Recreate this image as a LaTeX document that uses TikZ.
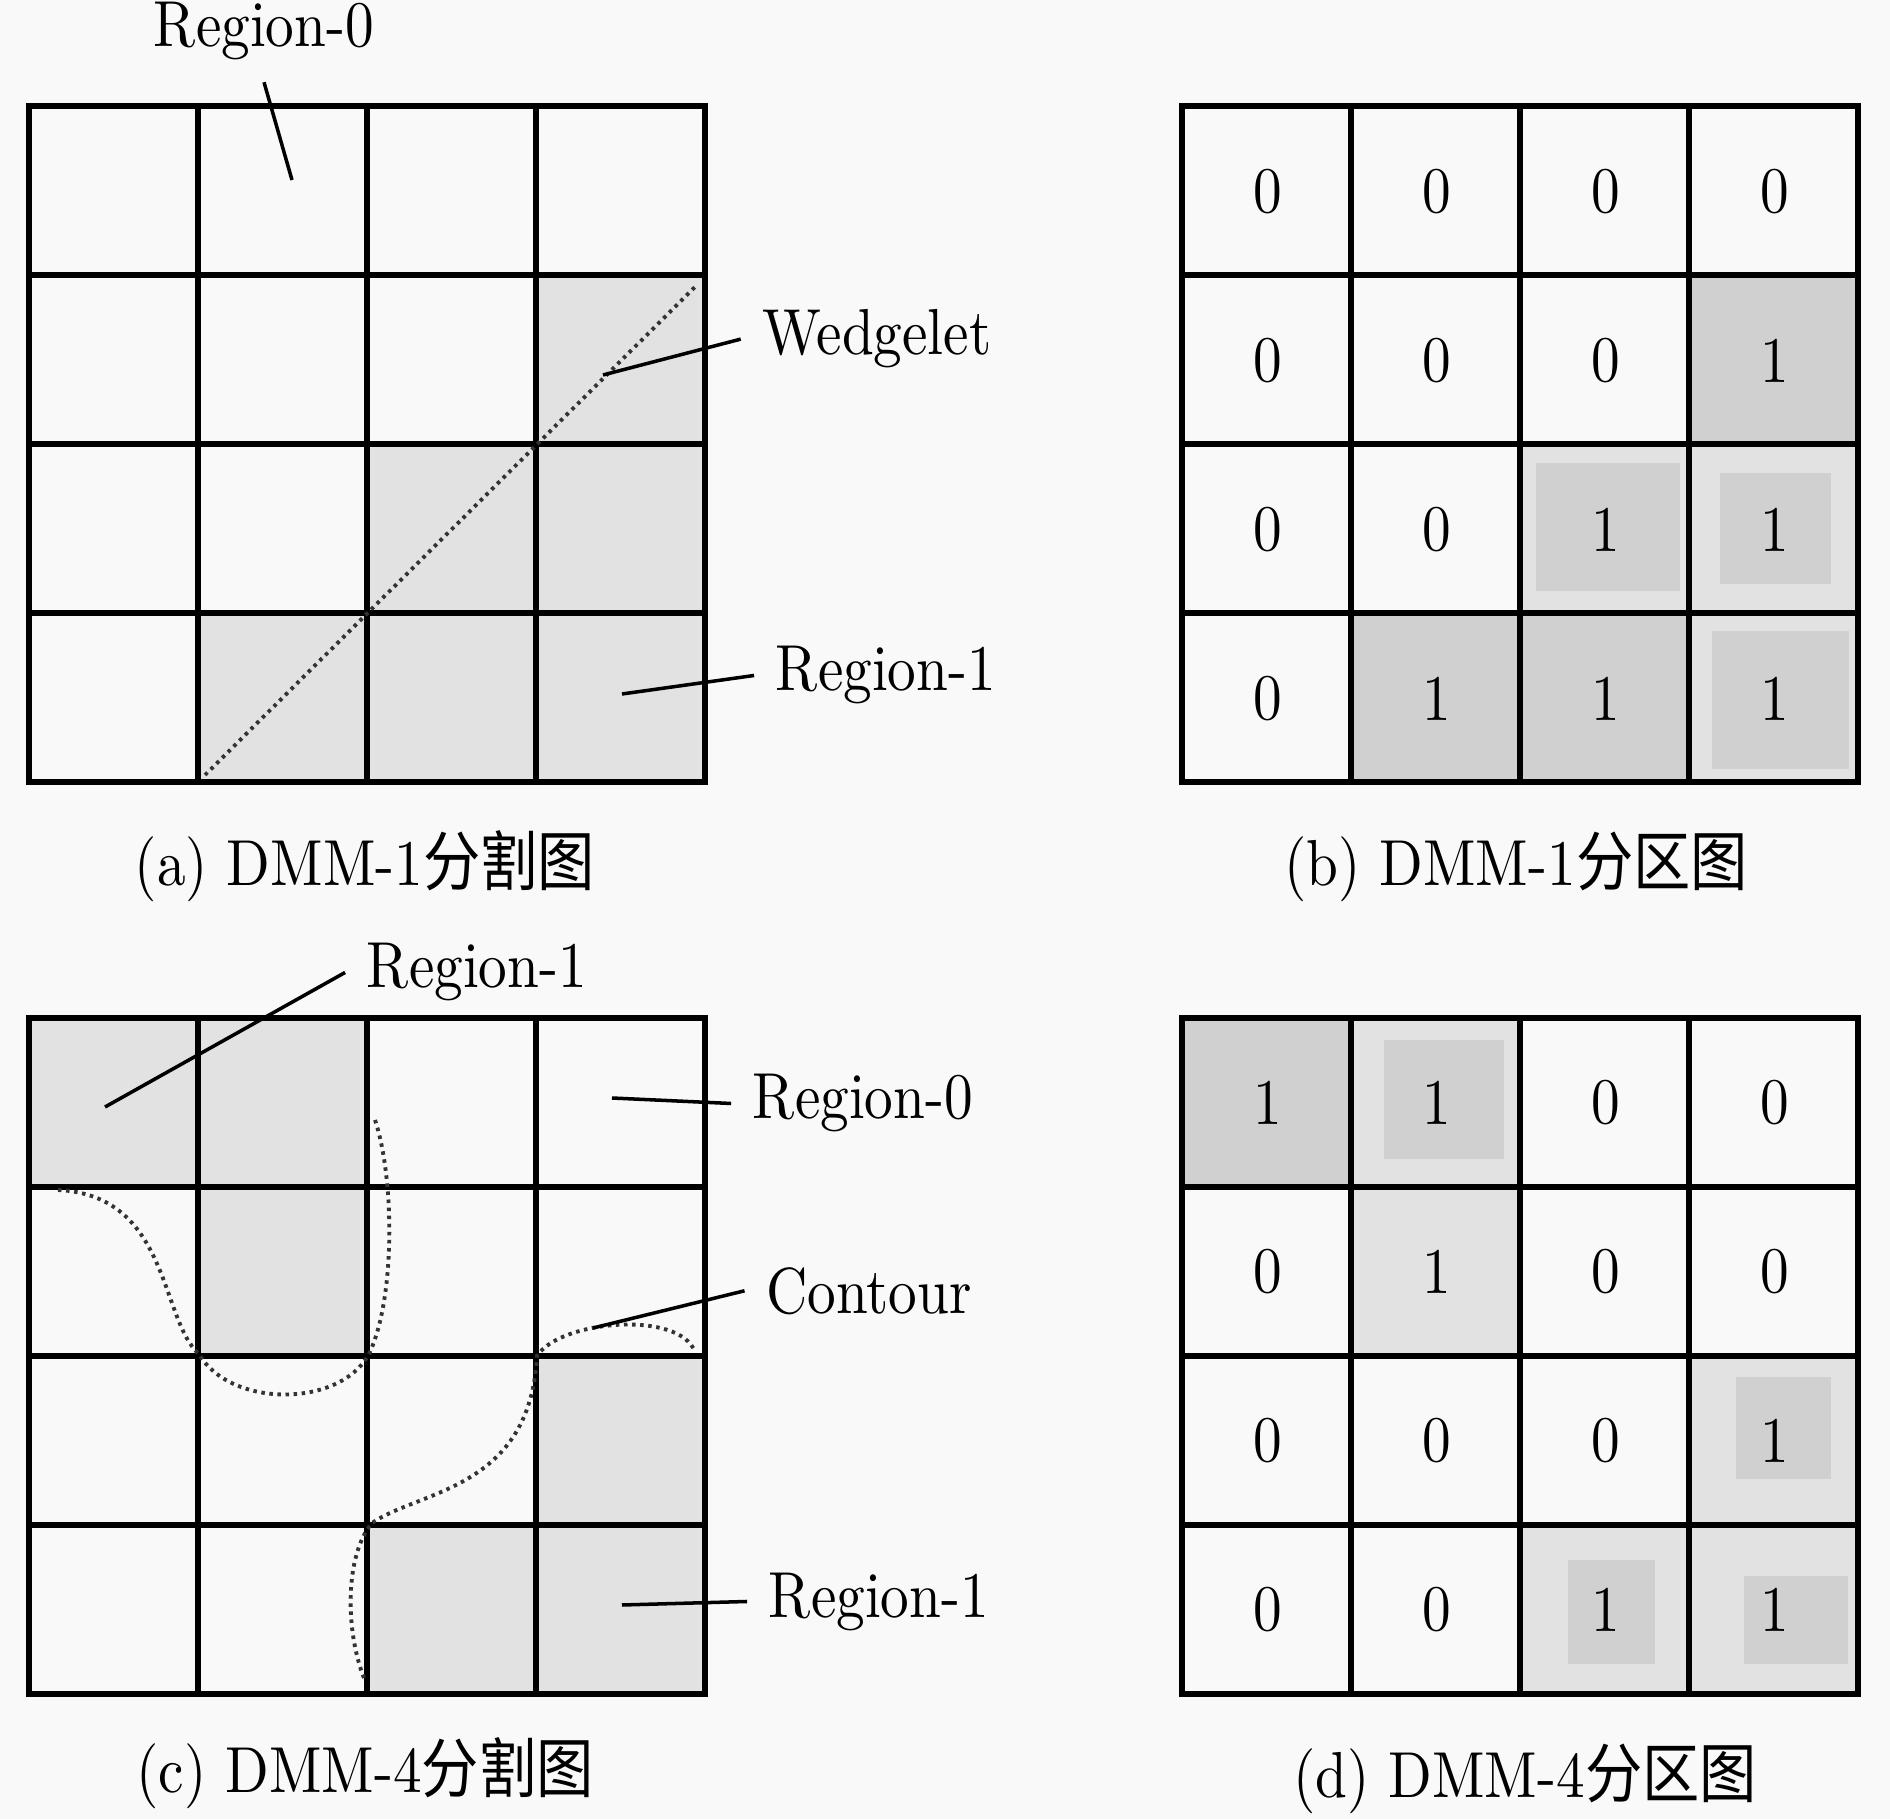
\documentclass[tikz,border=0pt]{standalone}
\usepackage{fontspec}
\setmainfont{lmroman10-regular.otf}[FakeStretch=0.88]
\newfontfamily\cjkfont{Noto Sans CJK SC}[FakeStretch=0.88]
\usetikzlibrary{positioning}

\tikzset{
  grid line/.style={line width=1.5pt},
  light cell/.style={fill=gray!23},
  dark cell/.style={fill=gray!37},
  leader/.style={line width=1pt},
  edge dots/.style={line width=1.1pt, draw=black!80, dash pattern=on 1pt off 1.3pt},
  regtag/.style={inner sep=6pt, font=\fontsize{18.5}{22}\selectfont},
  captext/.style={anchor=base, font=\fontsize{18.5}{22}\selectfont},
  cellnum/.style={font=\fontsize{18.5}{22}\selectfont},
}

\begin{document}
\begin{tikzpicture}[x=0.01cm, y=-0.01cm]
\useasboundingbox (0,0) rectangle (1890,1819);
\fill[gray!5] (0,0) rectangle (1890,1819);

% shading (a)
\foreach \c/\r in {3/1, 2/2, 3/2, 1/3, 2/3, 3/3}
  \fill[light cell] ({29+169*\c},{106+169*\r}) rectangle ++(169,169);
% shading (b)
\foreach \c/\r in {2/2, 3/2, 3/3}
  \fill[light cell] ({1182+169*\c},{106+169*\r}) rectangle ++(169,169);
\foreach \c/\r in {3/1, 1/3, 2/3}
  \fill[dark cell] ({1182+169*\c},{106+169*\r}) rectangle ++(169,169);
\fill[dark cell] (1536,463) rectangle (1680,591);
\fill[dark cell] (1720,473) rectangle (1831,584);
\fill[dark cell] (1712,631) rectangle (1849,769);
% shading (c)
\foreach \c/\r in {0/0, 1/0, 1/1, 3/2, 2/3, 3/3}
  \fill[light cell] ({29+169*\c},{1018+169*\r}) rectangle ++(169,169);
% shading (d)
\foreach \c/\r in {1/0, 1/1, 3/2, 2/3, 3/3}
  \fill[light cell] ({1182+169*\c},{1018+169*\r}) rectangle ++(169,169);
\fill[dark cell] (1182,1018) rectangle ++(169,169);
\fill[dark cell] (1384,1040) rectangle (1504,1159);
\fill[dark cell] (1736,1377) rectangle (1831,1479);
\fill[dark cell] (1568,1560) rectangle (1655,1664);
\fill[dark cell] (1744,1576) rectangle (1848,1664);

% 4x4 blocks
\foreach \gx/\gy in {29/106, 1182/106, 29/1018, 1182/1018} {
  \draw[grid line] (\gx,\gy) rectangle ++(676,676);
  \foreach \k in {1,2,3} {
    \draw[grid line] ({\gx+169*\k},\gy) -- ++(0,676);
    \draw[grid line] (\gx,{\gy+169*\k}) -- ++(676,0);
  }
}

% partition values
\foreach \row [count=\r from 0] in {{0,0,0,0},{0,0,0,1},{0,0,1,1},{0,1,1,1}}
  \foreach \v [count=\c from 0] in \row
    \node[cellnum] (b-\r-\c) at ({1182+86+169*\c},{106+86+169*\r}) {\v};
\foreach \row [count=\r from 0] in {{1,1,0,0},{0,1,0,0},{0,0,0,1},{0,0,1,1}}
  \foreach \v [count=\c from 0] in \row
    \node[cellnum] (d-\r-\c) at ({1182+86+169*\c},{1018+85+169*\r}) {\v};

% wedgelet
\coordinate (wA) at (205,775);
\coordinate (wB) at (697,285);
\draw[edge dots] (wA) -- (wB);

% contour
\draw[edge dots] (58,1190) .. controls (170,1195) and (160,1320) .. (199,1354)
  .. controls (230,1408) and (340,1408) .. (369,1354)
  .. controls (395,1300) and (395,1180) .. (375,1120);
\draw[edge dots] (364,1678) .. controls (345,1630) and (345,1555) .. (372,1523)
  .. controls (420,1490) and (530,1490) .. (537,1356)
  .. controls (560,1320) and (680,1310) .. (695,1352);

% labels (a)
\node[regtag, anchor=base] (r0a) at (264,47) {Region-0};
\node[regtag, anchor=base] (wedge) at (877,355) {Wedgelet};
\node[regtag, anchor=base] (r1a) at (886,691) {Region-1};
\coordinate (r0a-pt) at (292,180);
\coordinate (wedge-pt) at (603,375);
\coordinate (r1a-pt) at (622,694);
\draw[leader] (r0a.south) -- (r0a-pt);
\draw[leader] (wedge.west) -- (wedge-pt);
\draw[leader] (r1a.west) -- (r1a-pt);

% labels (c)
\node[regtag, anchor=base] (r1c) at (477,988) {Region-1};
\node[regtag, anchor=base] (r0c) at (863,1119) {Region-0};
\node[regtag, anchor=base] (cont) at (869,1313) {Contour};
\node[regtag, anchor=base] (r1d) at (879,1617) {Region-1};
\coordinate (r1c-pt) at (105,1107);
\coordinate (r0c-pt) at (612,1098);
\coordinate (cont-pt) at (593,1328);
\coordinate (r1d-pt) at (622,1605);
\draw[leader] (r1c.west) -- (r1c-pt);
\draw[leader] (r0c.west) -- (r0c-pt);
\draw[leader] (cont.west) -- (cont-pt);
\draw[leader] (r1d.west) -- (r1d-pt);

% captions
\node[captext] (capa) at (365,886) {(a) DMM-1{\cjkfont 分割图}};
\node[captext] (capb) at (1516,886) {(b) DMM-1{\cjkfont 分区图}};
\node[captext] (capc) at (365,1792) {(c) DMM-4{\cjkfont 分割图}};
\node[captext] (capd) at (1525,1797) {(d) DMM-4{\cjkfont 分区图}};
\end{tikzpicture}
\end{document}
